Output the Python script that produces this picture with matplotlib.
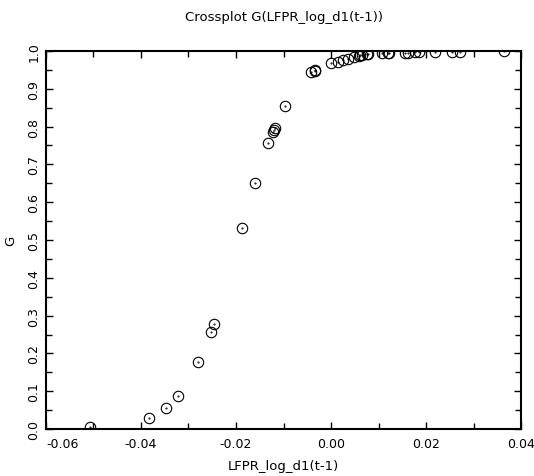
import numpy as np
import matplotlib
matplotlib.use("Agg")
import matplotlib.pyplot as plt
from matplotlib.ticker import MultipleLocator

# crossplot values
lfpr_lag = [-0.0507, -0.0383, -0.0348, -0.0323, -0.0279, -0.0253, -0.0247,
            -0.0187, -0.0159, -0.0132, -0.0122, -0.0120, -0.0118, -0.0097,
            -0.0043, -0.0034, -0.0033, -0.0001, 0.0014, 0.0025, 0.0035,
            0.0048, 0.0058, 0.0060, 0.0065, 0.0075, 0.0077, 0.0107, 0.0120,
            0.0122, 0.0156, 0.0163, 0.0177, 0.0185, 0.0219, 0.0254, 0.0272,
            0.0364]
g_vals = [0.0045, 0.030, 0.056, 0.087, 0.176, 0.257, 0.277,
          0.532, 0.651, 0.757, 0.785, 0.792, 0.795, 0.854,
          0.944, 0.948, 0.950, 0.968, 0.972, 0.976, 0.979,
          0.985, 0.988, 0.989, 0.990, 0.991, 0.992, 0.994, 0.995,
          0.995, 0.996, 0.996, 0.997, 0.997, 0.998, 0.998, 0.998,
          0.999]

title = "Crossplot G(LFPR_log_d1(t-1))"
xlab = "LFPR_log_d1(t-1)"
ylab = "G"

plt.rcParams['font.family'] = ['DejaVu Sans']

fig = plt.figure(figsize=(5.34, 4.77), dpi=100)
ax = fig.add_axes([0.0861, 0.0985, 0.8896, 0.7925])

ax.plot(lfpr_lag, g_vals, linestyle='none', marker='o', markersize=7.5,
        markerfacecolor='none', markeredgecolor='black', markeredgewidth=0.8)
ax.plot(lfpr_lag, g_vals, linestyle='none', marker='.', markersize=1.0,
        color='black')

ax.set_xlim(-0.06, 0.04)
ax.set_ylim(0.0, 1.0)
ax.xaxis.set_major_locator(MultipleLocator(0.02))
ax.xaxis.set_minor_locator(MultipleLocator(0.01))
ax.yaxis.set_major_locator(MultipleLocator(0.1))
ax.yaxis.set_minor_locator(MultipleLocator(0.05))
ax.xaxis.set_major_formatter(lambda v, p: "%.2f" % v)
ax.yaxis.set_major_formatter(lambda v, p: "%.1f" % v)

ax.tick_params(which='both', direction='in', top=True, right=True,
               labelsize=9, width=1.0, colors='black')
ax.tick_params(which='major', length=5)
ax.tick_params(axis='x', which='major', pad=6)
ax.tick_params(axis='y', which='major', pad=4)
ax.tick_params(which='minor', length=4)

for s in ax.spines.values():
    s.set_linewidth(1.5)

ax.set_title(title, fontsize=9.5, pad=22)
ax.set_xlabel(xlab, fontsize=9.5, labelpad=6)
ax.set_ylabel(ylab, fontsize=9.5)
ax.yaxis.set_label_coords(-0.06, 0.5)

fig.canvas.draw()
for lbl in ax.get_yticklabels():
    lbl.set_rotation(90)
    lbl.set_va('center')
for t in ax.xaxis.get_major_ticks():
    if abs(t.get_loc() + 0.06) < 1e-9:
        t.label1.set_ha('left')

fig.savefig("out.png", dpi=100)
